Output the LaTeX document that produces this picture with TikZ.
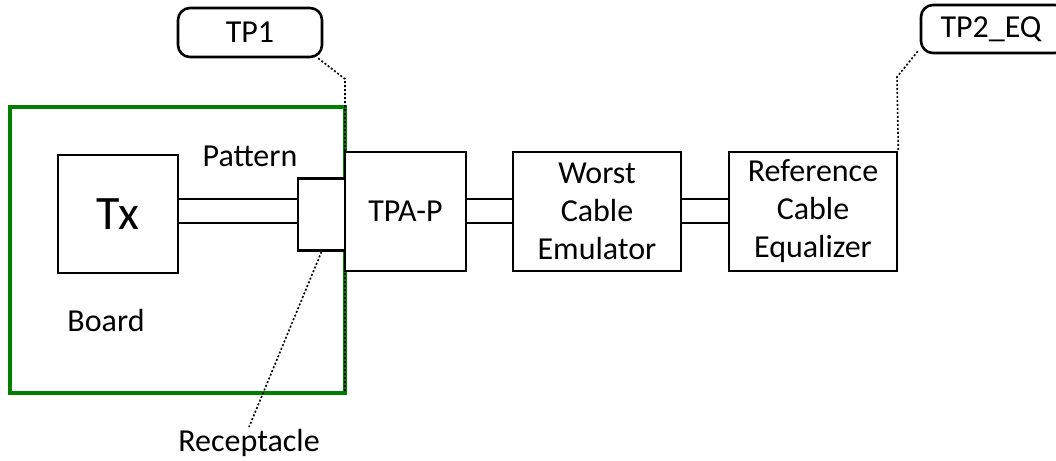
\documentclass[tikz,border=0pt]{standalone}
\usepackage{fontspec}
\setmainfont{Carlito}
\begin{document}
\begin{tikzpicture}[x=1pt,y=-1pt,
  every node/.style={font=\fontsize{32}{38}\selectfont},
  blk/.style={draw=black,line width=2.6pt,fill=white,inner sep=0pt,align=center},
  call/.style={draw=black,line width=2.6pt,fill=white,rounded corners=12pt,inner sep=0pt},
  lbl/.style={inner sep=2pt},
  trace/.style={draw=black,line width=1.6pt},
  dots/.style={draw=black,line width=1.6pt,dash pattern=on 2pt off 2pt}]
\useasboundingbox (0,0) rectangle (1056,460);
\definecolor{boardgreen}{RGB}{0,128,0}
% board
\node[draw=boardgreen,line width=3.5pt,minimum width=335pt,minimum height=286pt,inner sep=0pt] (board) at (177.5,250) {};
\coordinate (ya) at (0,199);
\coordinate (yb) at (0,223);
% blocks
\node[blk,minimum width=120pt,minimum height=118pt,font=\fontsize{48}{54}\selectfont] (tx) at (118,214) {Tx};
\node[blk,minimum width=47pt,minimum height=72pt] (rec) at (321.5,214.5) {};
\node[blk,minimum width=121pt,minimum height=119pt] (tpa) at (405.5,211.5) {TPA-P};
\node[blk,minimum width=168pt,minimum height=119pt] (wce) at (597,211.5) {Worst\\Cable\\Emulator};
\node[blk,minimum width=168pt,minimum height=119pt] (rce) at (813,211.5) {Reference\\Cable\\Equalizer};
% traces
\draw[trace] (tx.east |- ya) -- (rec.west |- ya);
\draw[trace] (tx.east |- yb) -- (rec.west |- yb);
\draw[trace] (tpa.east |- ya) -- (wce.west |- ya);
\draw[trace] (tpa.east |- yb) -- (wce.west |- yb);
\draw[trace] (wce.east |- ya) -- (rce.west |- ya);
\draw[trace] (wce.east |- yb) -- (rce.west |- yb);
% labels
\node[lbl] (pattern) at (250,156) {Pattern};
\node[lbl] (boardlbl) at (106,321) {Board};
\node[lbl] (reclbl) at (249,443) {Receptacle};
% callouts
\node[call,minimum width=144pt,minimum height=49pt] (tp1) at (250,32.5) {TP1};
\node[call,minimum width=146pt,minimum height=48pt] (tp2) at (994,29) {TP2\_EQ\hspace*{6pt}};
\coordinate (tp1bend) at (345,79);
\coordinate (tp1end) at (345,393);
\coordinate (tp2bend) at (897,77);
\draw[dots] ([xshift=-5pt]tp1.south east) -- (tp1bend) -- (tp1end);
\draw[dots] ([xshift=-2pt,yshift=3pt]tp2.south west) -- (tp2bend) -- (rce.north east);
\draw[dots] (rec.south) -- (reclbl.north);
\end{tikzpicture}
\end{document}
